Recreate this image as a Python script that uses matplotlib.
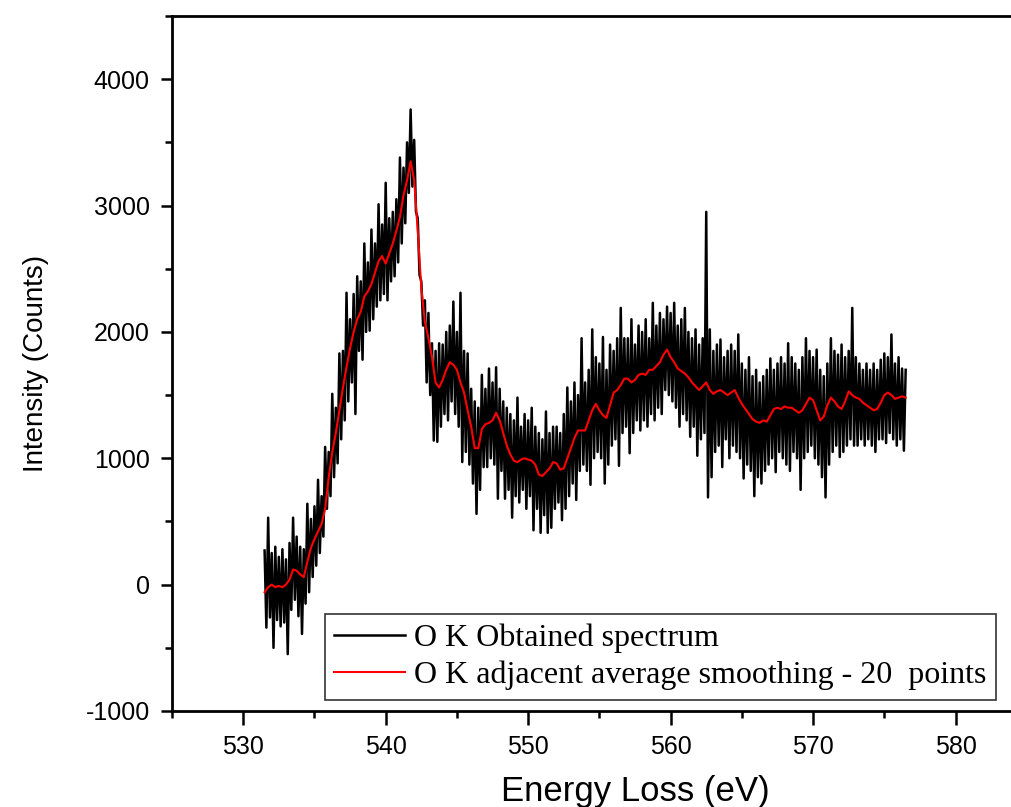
import numpy as np
from matplotlib import pyplot as plt
from matplotlib.ticker import MultipleLocator

# smoothed curve (red), one value every 0.25 eV starting at 531.5 eV
smooth = [-60, -20, 0, -20, -10, -20, 0, 40, 120, 110, 80, 60, 180, 290,
          360, 420, 480, 600, 850, 1050, 1200, 1380,
          1560, 1720, 1870, 2000, 2100, 2160, 2280, 2320,
          2380, 2470, 2560, 2600, 2540, 2620, 2700, 2800,
          2910, 3080, 3200, 3350, 3200, 2800, 2350, 2080,
          1950, 1800, 1600, 1560, 1620, 1700, 1760, 1740,
          1700, 1600, 1520, 1380, 1250, 1080, 1080, 1230,
          1270, 1280, 1300, 1360, 1300, 1200, 1100, 1030,
          980, 970, 990, 1000, 990, 980, 950, 870,
          860, 890, 920, 970, 960, 910, 920, 1000,
          1080, 1160, 1220, 1220, 1220, 1300, 1380, 1430,
          1380, 1340, 1320, 1420, 1520, 1540, 1580, 1630,
          1630, 1600, 1620, 1660, 1670, 1660, 1700, 1700,
          1730, 1760, 1820, 1860, 1800, 1760, 1710, 1690,
          1670, 1640, 1600, 1570, 1540, 1570, 1600, 1540,
          1510, 1530, 1540, 1520, 1500, 1520, 1540, 1480,
          1430, 1390, 1350, 1310, 1290, 1280, 1300, 1290,
          1340, 1390, 1400, 1390, 1410, 1400, 1400, 1380,
          1360, 1380, 1430, 1480, 1460, 1380, 1300, 1330,
          1420, 1480, 1450, 1410, 1390, 1450, 1530, 1500,
          1480, 1470, 1440, 1420, 1400, 1380, 1390, 1440,
          1500, 1520, 1500, 1470, 1480, 1490, 1480]

# raw spectrum: upper spikes on the 0.25 eV grid, lower spikes in between
raw_hi = [270, 530, 250, 300, 220, 280, 200, 330, 530, 380, 300, 280, 640, 520,
          620, 830, 700, 1090, 1050, 1510, 1400, 1830,
          1850, 2310, 2100, 2300, 2440, 2400, 2700, 2550,
          2810, 2700, 3010, 2850, 3180, 2900, 2950, 3050,
          3380, 3300, 3500, 3760, 3520, 2900, 2400, 2250,
          2150, 1910, 1850, 1910, 1900, 2000, 2050, 2240,
          2000, 2310, 1850, 1830, 1550, 1450, 1400, 1660,
          1550, 1710, 1600, 1720, 1550, 1450, 1400, 1350,
          1300, 1480, 1250, 1350, 1300, 1400, 1250, 1200,
          1150, 1370, 1200, 1250, 1250, 1200, 1350, 1560,
          1450, 1600, 1500, 1950, 1600, 1700, 2020, 1800,
          1750, 1960, 1700, 1900, 1850, 1950, 2190, 1950,
          1950, 2100, 1900, 2050, 2000, 2100, 1950, 2230,
          2050, 2150, 2100, 2200, 2150, 2230, 2050, 2100,
          2190, 2000, 1950, 2020, 1900, 1950, 2950, 2020,
          1850, 1900, 1940, 1800, 1850, 1900, 1850, 1980,
          1750, 1700, 1800, 1650, 1700, 1600, 1650, 1700,
          1790, 1700, 1750, 1800, 1750, 1910, 1800, 1750,
          1700, 1800, 1950, 1850, 1800, 1860, 1700, 1650,
          1750, 1950, 1850, 1820, 1900, 1800, 1850, 2190,
          1800, 1750, 1700, 1750, 1700, 1750, 1700, 1780,
          1830, 1800, 1980, 1750, 1800, 1710, 1700]
raw_lo = [-340, -260, -500, -280, -330, -300, -550, -200, -120, -250, -390, -150, -60, 60,
          150, 250, 380, 600, 700, 850, 960, 1150,
          1300, 1450, 1600, 1350, 1850, 1780, 2000, 2010,
          2100, 2200, 2250, 2300, 2250, 2400, 2440, 2550,
          2700, 2860, 3100, 3150, 2950, 2450, 2050, 1600,
          1500, 1140, 1130, 1250, 1350, 1300, 1450, 1350,
          1250, 970, 1050, 950, 800, 560, 750, 930,
          930, 1000, 950, 680, 900, 680, 750, 530,
          700, 650, 750, 600, 700, 430, 600, 410,
          550, 410, 450, 600, 650, 510, 600, 700,
          800, 670, 900, 950, 900, 790, 1000, 1050,
          1000, 800, 950, 1100, 1150, 940, 1200, 1250,
          1040, 1200, 1300, 1220, 1300, 1250, 1350, 1300,
          1400, 1350, 1540, 1500, 1450, 1400, 1250, 1350,
          1300, 1170, 1250, 1020, 1150, 1200, 690, 850,
          1050, 1100, 930, 1150, 1000, 1100, 1050, 1000,
          840, 950, 900, 700, 850, 800, 900, 950,
          1000, 890, 1050, 1000, 950, 900, 1050, 1000,
          750, 1000, 1050, 1100, 1000, 950, 850, 690,
          950, 1050, 1100, 1010, 1050, 1100, 1150, 1100,
          1100, 1150, 1100, 1150, 1100, 1050, 1150, 1150,
          1120, 1200, 1150, 1100, 1150, 1060]

e0, de = 531.5, 0.25
energy = e0 + de*np.arange(len(smooth))
e_hi = e0 + de*np.arange(len(raw_hi))
e_lo = e_hi[:len(raw_lo)] + de/2

raw_e = np.empty(len(e_hi) + len(e_lo))
raw_v = np.empty(len(raw_e))
raw_e[0::2], raw_v[0::2] = e_hi, raw_hi
raw_e[1::2], raw_v[1::2] = e_lo, raw_lo

plt.rcParams['font.family'] = ['Liberation Sans', 'DejaVu Sans']
plt.rcParams['axes.unicode_minus'] = False
fig = plt.figure(figsize=(10.11, 8.07), dpi=100)
ax = fig.add_axes([172/1011, 1-711/807, 926/1011, 695/807])

ax.plot(raw_e, raw_v, color='black', lw=1.8, label='O K Obtained spectrum')
ax.plot(energy, smooth, color='red', lw=1.5, label='O K adjacent average smoothing - 20  points')

ax.set_xlim(525, 590)
ax.set_ylim(-1000, 4500)
ax.set_xticks([530, 540, 550, 560, 570, 580])
ax.xaxis.set_minor_locator(MultipleLocator(5))
ax.yaxis.set_major_locator(MultipleLocator(1000))
ax.yaxis.set_minor_locator(MultipleLocator(500))
ax.tick_params(which='both', direction='out', width=1.8, labelsize=18, top=False, right=False)
ax.tick_params(axis='y', which='major', length=8, pad=8)
ax.tick_params(axis='y', which='minor', length=5)
ax.tick_params(axis='x', which='major', length=10, pad=7)
ax.tick_params(axis='x', which='minor', length=5)
for s in ax.spines.values():
    s.set_linewidth(2)
ax.spines['right'].set_visible(False)

ax.set_xlabel('Energy Loss (eV)', fontsize=25, labelpad=12)
ax.set_ylabel('Intensity (Counts)', fontsize=20, labelpad=26)

leg = ax.legend(loc='lower left', bbox_to_anchor=(0.165, 0.016), borderaxespad=0,
                prop={'family': 'Liberation Serif', 'size': 23}, frameon=True, fancybox=False,
                edgecolor='black', handlelength=2.2, handletextpad=0.3, labelspacing=0.25,
                borderpad=0.3)
leg.get_frame().set_linewidth(1.2)

fig.savefig('out.png', dpi=100)
